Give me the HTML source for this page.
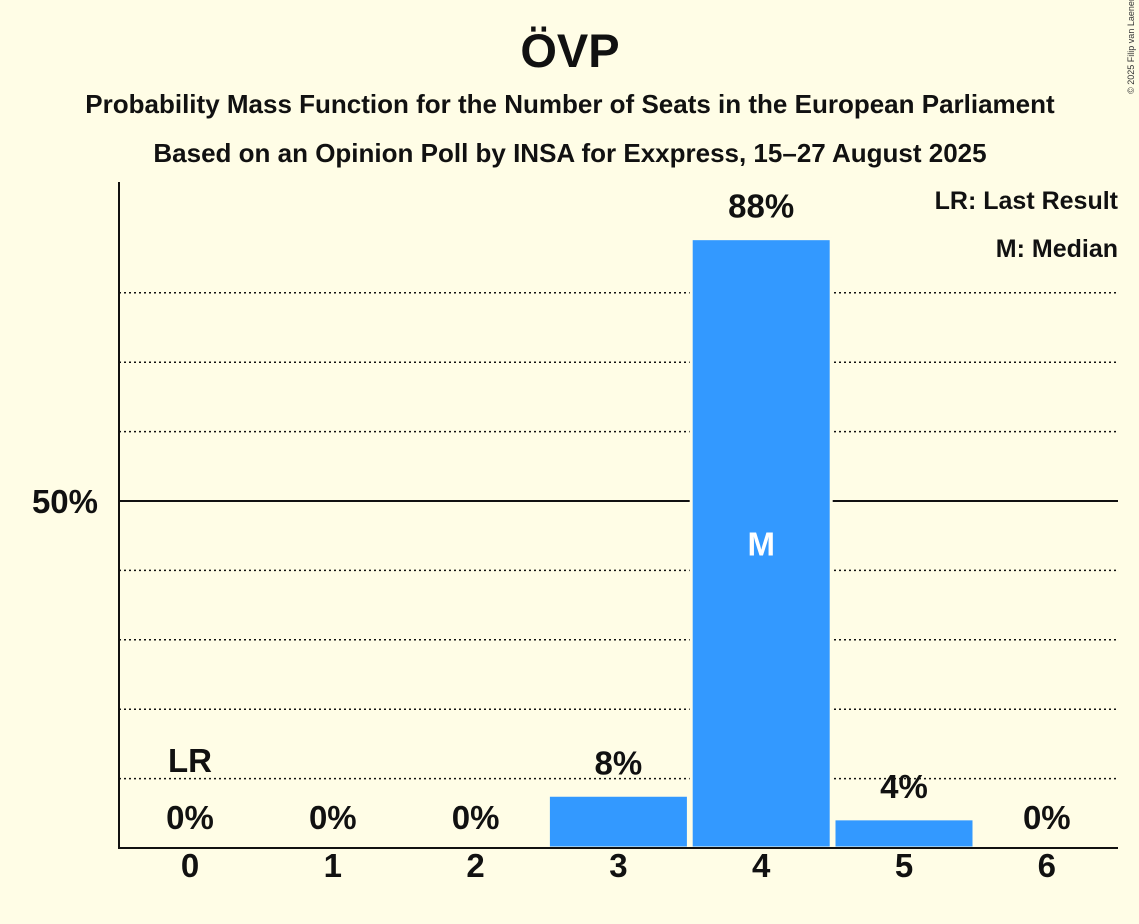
<!DOCTYPE html>
<html><head><meta charset="utf-8">
<style>
html,body{margin:0;padding:0;background:#FFFDE6;}
svg{display:block;font-family:"Liberation Sans",sans-serif;font-weight:bold;}
</style></head>
<body>
<svg id="chart" width="1139" height="924" viewBox="0 0 1139 924">
<rect width="1139" height="924" fill="#FFFDE6"/>
<text x="570" y="67" text-anchor="middle" font-size="47" fill="#111">ÖVP</text>
<text x="570" y="113" text-anchor="middle" font-size="26" fill="#111">Probability Mass Function for the Number of Seats in the European Parliament</text>
<text x="570" y="162" text-anchor="middle" font-size="26" fill="#111">Based on an Opinion Poll by INSA for Exxpress, 15–27 August 2025</text>
<text x="1118" y="209" text-anchor="end" font-size="25" fill="#111">LR: Last Result</text>
<text x="1118" y="257" text-anchor="end" font-size="25" fill="#111">M: Median</text>
<text transform="translate(1134,45) rotate(-90)" text-anchor="middle" font-size="9" font-weight="normal" fill="#333">© 2025 Filip van Laenen</text>
<g id="grid"></g>
<g id="bars"></g>
<g id="labels"></g>
</svg>
<script>
const categories = [0,1,2,3,4,5,6];
const probabilities = [0,0,0,7.6,87.8,4.2,0];
const valueLabels = ["0%","0%","0%","8%","88%","4%","0%"];
const gridTicks = [10,20,30,40,60,70,80];
const majorTicks = [50];
const majorTickLabels = ["50%"];
const lastResultIndex = 0;
const medianIndex = 4;

const NS="http://www.w3.org/2000/svg";
const plotLeft=119, plotRight=1118, baseY=848, pxPerPct=6.94;
const step=142.8, firstCenter=190, barW=140;
const y = v => baseY - v*pxPerPct;
const x = i => firstCenter + i*step;
function mk(tag, attrs, parent){const e=document.createElementNS(NS,tag);for(const k in attrs)e.setAttribute(k,attrs[k]);parent.appendChild(e);return e;}
const grid=document.getElementById('grid'), bars=document.getElementById('bars'), labels=document.getElementById('labels'), svg=document.getElementById('chart');

gridTicks.forEach(t=>{
  const l=mk('line',{x1:plotLeft,x2:plotRight,y1:y(t),y2:y(t),stroke:'#111','stroke-width':1.5,'stroke-dasharray':'2,3'},grid);
  
  
});
majorTicks.forEach((t,i)=>{
  const l=mk('line',{x1:plotLeft,x2:plotRight,y1:y(t),y2:y(t),stroke:'#111','stroke-width':2},grid);
  
  
  const tx=mk('text',{x:98,y:y(t)+12,'text-anchor':'end','font-size':33,fill:'#111'},grid);
  tx.textContent=majorTickLabels[i];
  
  
});

probabilities.forEach((p,i)=>{
  if(p>0){
    const r=mk('rect',{x:x(i)-barW/2,y:y(p),width:barW,height:baseY-y(p),fill:'#3399FF',stroke:'#FFFDE6','stroke-width':3},bars);
    
    
  }
  const vl=mk('text',{x:x(i),'text-anchor':'middle','font-size':33,fill:'#111',y:(p>2? y(p)-21 : 829)},labels);
  vl.textContent=valueLabels[i];
  
  
  const xl=mk('text',{x:x(i),y:877,'text-anchor':'middle','font-size':33,fill:'#111'},labels);
  xl.textContent=categories[i];
  
  
});

const lr=mk('text',{x:x(lastResultIndex),y:772,'text-anchor':'middle','font-size':33,fill:'#111'},labels);
lr.textContent='LR';


const md=mk('text',{x:x(medianIndex),y:y(probabilities[medianIndex]/2)+12,'text-anchor':'middle','font-size':33,fill:'#fff'},labels);
md.textContent='M';



const ya=mk('line',{x1:plotLeft,x2:plotLeft,y1:182,y2:baseY+1,stroke:'#111','stroke-width':2},svg);


const xa=mk('line',{x1:plotLeft,x2:plotRight,y1:baseY,y2:baseY,stroke:'#111','stroke-width':2},svg);


</script>
</body></html>
